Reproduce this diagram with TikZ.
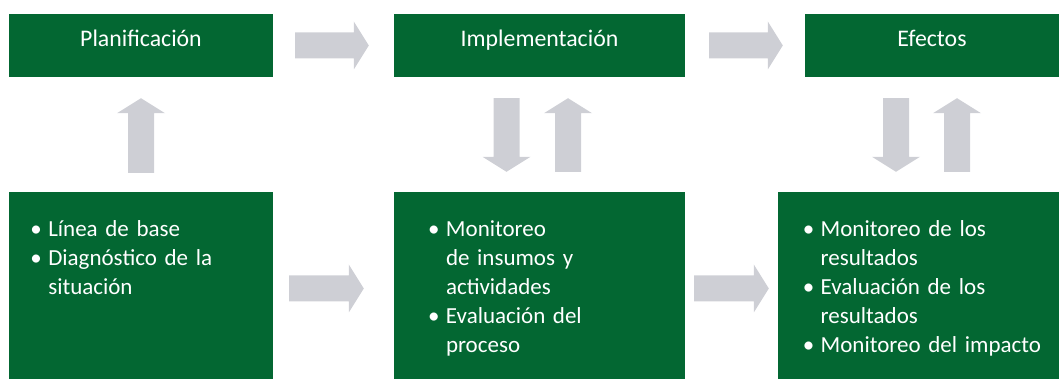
\documentclass[tikz,border=0pt]{standalone}
\usepackage{fontspec}
\setmainfont{Carlito}
\usetikzlibrary{positioning,calc}

\definecolor{boxgreen}{RGB}{3,103,50}
\definecolor{arrowgray}{RGB}{206,207,213}
\newcommand{\bul}{\leavevmode\llap{\textbullet\hspace{6.5pt}}}
\newcommand{\grayarrow}[2]{%
  \path ($(#2)!15pt!(#1)$) coordinate (hb);
  \fill[arrowgray] ($(#1)!13pt!90:(#2)$) -- ($(hb)!13pt!90:(#2)$)
    -- ($(hb)!24pt!90:(#2)$) -- (#2) -- ($(hb)!24pt!-90:(#2)$)
    -- ($(hb)!13pt!-90:(#2)$) -- ($(#1)!13pt!-90:(#2)$) -- cycle;}

\begin{document}
\begin{tikzpicture}[x=1pt, y=1pt,
  topbox/.style={fill=boxgreen, text=white, minimum height=63pt, inner sep=0pt,
    text height=12pt, text depth=9.6pt, font=\fontsize{23.8}{28.5}\selectfont},
  botbox/.style={fill=boxgreen, minimum height=187pt, inner sep=0pt},
  bultext/.style={text=white, text width=230pt, align=left, inner sep=0pt,
    anchor=base west, font=\fontsize{23}{29}\selectfont}]
\useasboundingbox (0,0) rectangle (1059,379);

\node[topbox, minimum width=264pt] (plan-t) at (141,333.5) {Planificación};
\node[topbox, minimum width=291pt] (impl-t) at (539.5,333.5) {Implementación};
\node[topbox, minimum width=254pt] (efec-t) at (932,333.5) {Efectos};

\node[botbox, minimum width=264pt] (plan-b) at (141,93.5) {};
\node[botbox, minimum width=291pt] (impl-b) at (539.5,93.5) {};
\node[botbox, minimum width=281pt] (efec-b) at (918.5,93.5) {};

\node[bultext] (plan-txt) at ([shift={(39.3pt,-44.5pt)}]plan-b.north west)
    {\bul Línea de base\\ \bul Diagnóstico de la\\ situación};
\node[bultext] (impl-txt) at ([shift={(52pt,-44.5pt)}]impl-b.north west)
    {\bul Monitoreo\\ de insumos y\\ actividades\\ \bul Evaluación del\\ proceso};
\node[bultext] (efec-txt) at ([shift={(42.7pt,-44.5pt)}]efec-b.north west)
    {\bul Monitoreo de los\\ resultados\\ \bul Evaluación de los\\ resultados\\
     \bul Monitoreo del impacto};

\coordinate (t1s) at ([xshift=22pt]plan-t.east);
\coordinate (t1e) at ([xshift=-25pt]impl-t.west);
\coordinate (t2s) at ([xshift=24pt]impl-t.east);
\coordinate (t2e) at ([xshift=-22pt]efec-t.west);
\coordinate (b1s) at ([shift={(16pt,-3pt)}]plan-b.east);
\coordinate (b1e) at ([shift={(-30pt,-3pt)}]impl-b.west);
\coordinate (b2s) at ([shift={(9pt,-3pt)}]impl-b.east);
\coordinate (b2e) at ([shift={(-9pt,-3pt)}]efec-b.west);
\coordinate (p-up-s) at ([yshift=19pt]plan-b.north);
\coordinate (p-up-e) at ([yshift=-21pt]plan-t.south);
\coordinate (i-dn-s) at ([shift={(-33pt,-21pt)}]impl-t.south);
\coordinate (i-dn-e) at ([shift={(-33pt,20pt)}]impl-b.north);
\coordinate (i-up-s) at ([shift={(28.5pt,20pt)}]impl-b.north);
\coordinate (i-up-e) at ([shift={(28.5pt,-21pt)}]impl-t.south);
\coordinate (e-dn-s) at ($(efec-t.south)+(-36pt,-21pt)$);
\coordinate (e-dn-e) at ($(efec-t.south |- efec-b.north)+(-36pt,20pt)$);
\coordinate (e-up-s) at ($(efec-t.south |- efec-b.north)+(25pt,20pt)$);
\coordinate (e-up-e) at ($(efec-t.south)+(25pt,-21pt)$);

\grayarrow{t1s}{t1e}
\grayarrow{t2s}{t2e}
\grayarrow{b1s}{b1e}
\grayarrow{b2s}{b2e}
\grayarrow{p-up-s}{p-up-e}
\grayarrow{i-dn-s}{i-dn-e}
\grayarrow{i-up-s}{i-up-e}
\grayarrow{e-dn-s}{e-dn-e}
\grayarrow{e-up-s}{e-up-e}
\end{tikzpicture}
\end{document}
